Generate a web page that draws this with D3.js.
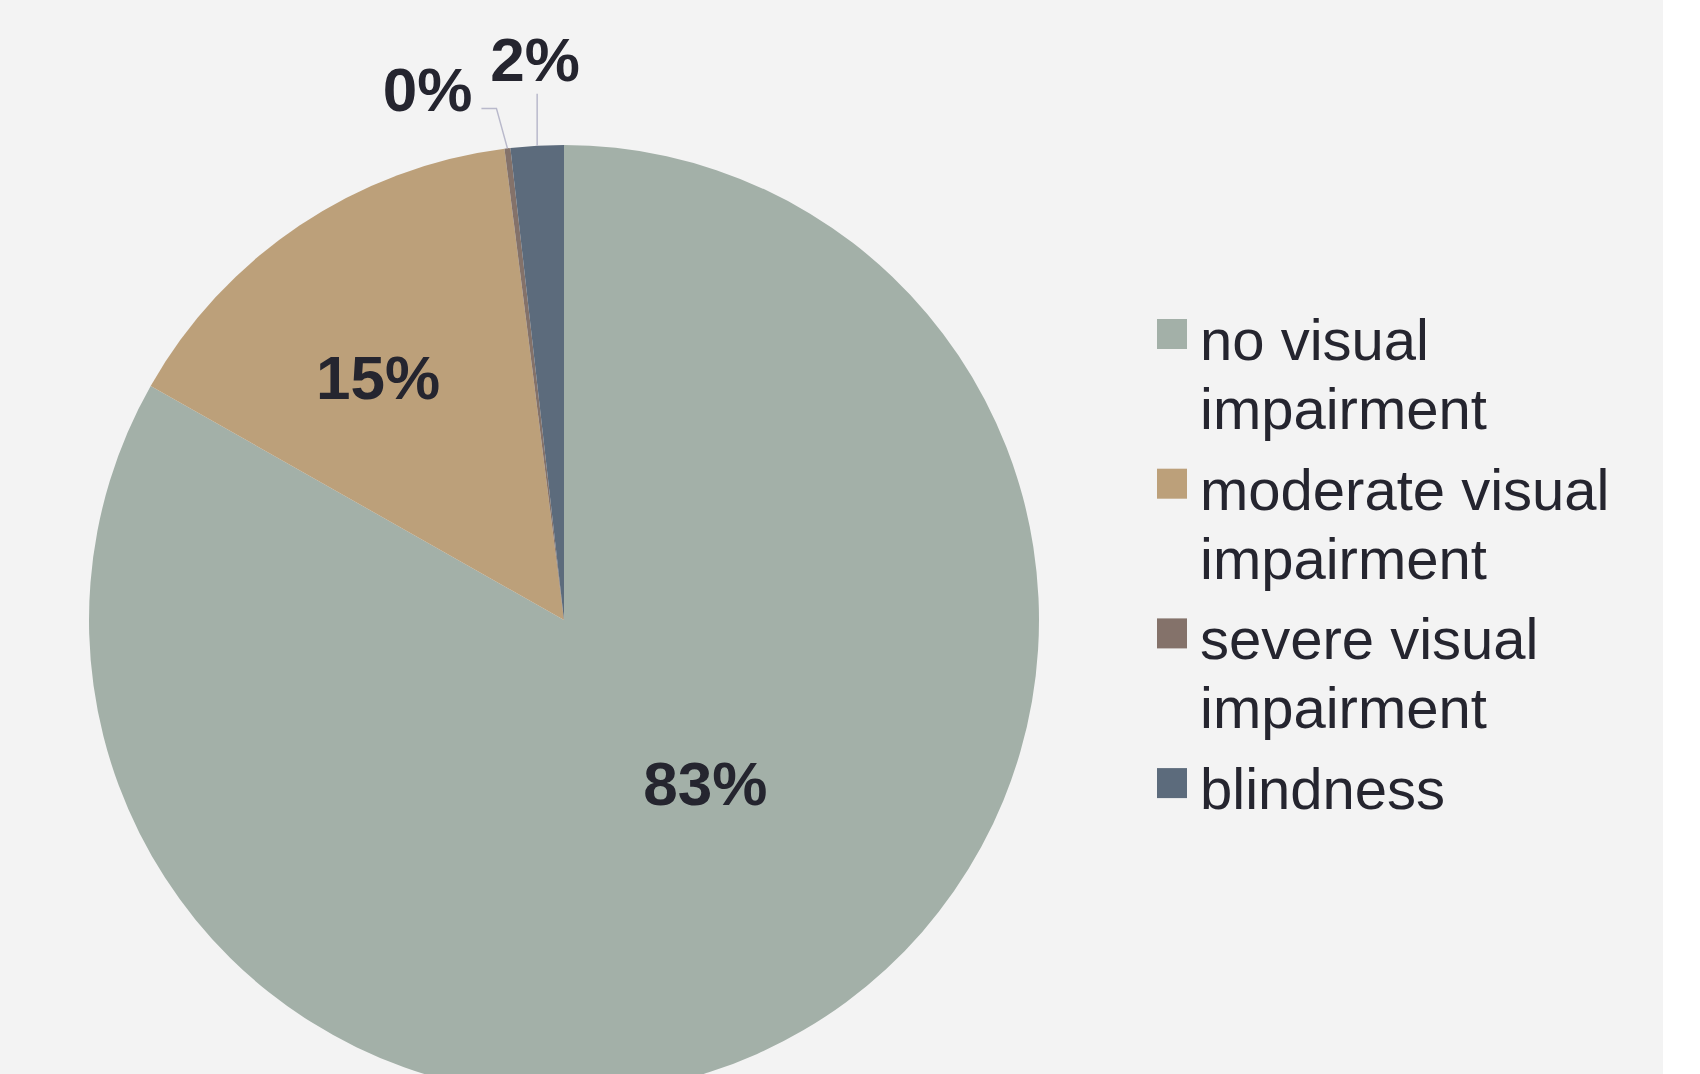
<!DOCTYPE html>
<html>
<head>
<meta charset="utf-8">
<script src="https://cdn.jsdelivr.net/npm/d3@7"></script>
<style>
  html, body { margin: 0; padding: 0; background: #fff; overflow: hidden; }
  svg { display: block; }
</style>
</head>
<body>
<svg id="chart"></svg>
<script>
// --- Data ---
const categories = ["no visual impairment", "moderate visual impairment", "severe visual impairment", "blindness"];
const legendLines = [["no visual", "impairment"], ["moderate visual", "impairment"], ["severe visual", "impairment"], ["blindness"]];
const shares = [83.2, 14.8, 0.2, 1.8];
const sliceColors = ["#a3b0a8", "#bca07a", "#84726a", "#5c6b7c"];

// --- Layout ---
const W = 1700, H = 1074;
const FONT = "'Liberation Sans', Arial, Helvetica, sans-serif";
const TEXT = "#25252f";
const cx = 564, cy = 620, R = 475;

const svg = d3.select("#chart").attr("width", W).attr("height", H);

// plot area background (white strip stays on the right)
svg.append("rect").attr("width", 1663).attr("height", H).attr("fill", "#f3f3f3");

const pie = d3.pie().sort(null).value(d => d)(shares);
const arc = d3.arc().innerRadius(0).outerRadius(R);

const g = svg.append("g").attr("transform", `translate(${cx},${cy})`);

g.selectAll("path.slice")
  .data(pie)
  .join("path")
  .attr("class", "slice")
  .attr("d", arc)
  .attr("fill", (d, i) => sliceColors[i]);

const pct = d => Math.round(d.value) + "%";
const mid = d => (d.startAngle + d.endAngle) / 2;
const onArc = (a, r) => [r * Math.sin(a), -r * Math.cos(a)];

// inside labels: centroid at a given radius, then nudged like Excel's best fit
const inside = [{ r: 219, dx: 31, dy: -4 }, { r: 305, dx: -16, dy: 32 }];
inside.forEach((p, i) => {
  const d = pie[i];
  const [x, y] = onArc(mid(d), p.r);
  g.append("text")
    .attr("x", x + p.dx).attr("y", y + p.dy)
    .attr("text-anchor", "middle")
    .attr("font-family", FONT).attr("font-weight", "bold")
    .attr("font-size", 62).attr("fill", TEXT)
    .text(pct(d));
});

// outside labels with leader lines
const leader = "#b9b9cb";
{
  // severe visual impairment (0%)
  const d = pie[2];
  const [sx, sy] = onArc(mid(d), R);
  const ex = sx - 11, ey = sy - 40;
  g.append("path")
    .attr("d", d3.line()([[sx, sy], [ex, ey], [ex - 15, ey]]))
    .attr("fill", "none").attr("stroke", leader).attr("stroke-width", 1.5);
  g.append("text")
    .attr("x", ex - 24).attr("y", ey + 3)
    .attr("text-anchor", "end")
    .attr("font-family", FONT).attr("font-weight", "bold")
    .attr("font-size", 62).attr("fill", TEXT)
    .text(pct(d));
}
{
  // blindness (2%)
  const d = pie[3];
  const [sx, sy] = onArc(mid(d), R);
  g.append("path")
    .attr("d", d3.line()([[sx, sy], [sx, sy - 52]]))
    .attr("fill", "none").attr("stroke", leader).attr("stroke-width", 1.5);
  g.append("text")
    .attr("x", sx - 2).attr("y", sy - 65)
    .attr("text-anchor", "middle")
    .attr("font-family", FONT).attr("font-weight", "bold")
    .attr("font-size", 62).attr("fill", TEXT)
    .text(pct(d));
}

// --- Legend ---
const legend = svg.append("g").attr("transform", "translate(1157,360)");
const item = legend.selectAll("g.item")
  .data(categories)
  .join("g")
  .attr("class", "item")
  .attr("transform", (d, i) => `translate(0,${i * 149.7})`);

item.append("rect")
  .attr("x", 0).attr("y", -41)
  .attr("width", 30).attr("height", 30)
  .attr("fill", (d, i) => sliceColors[i]);

item.append("text")
  .attr("font-family", FONT).attr("font-size", 58).attr("fill", TEXT)
  .selectAll("tspan")
  .data((d, i) => legendLines[i])
  .join("tspan")
  .attr("x", 43)
  .attr("y", (d, j) => j * 69)
  .text(d => d);
</script>
</body>
</html>
